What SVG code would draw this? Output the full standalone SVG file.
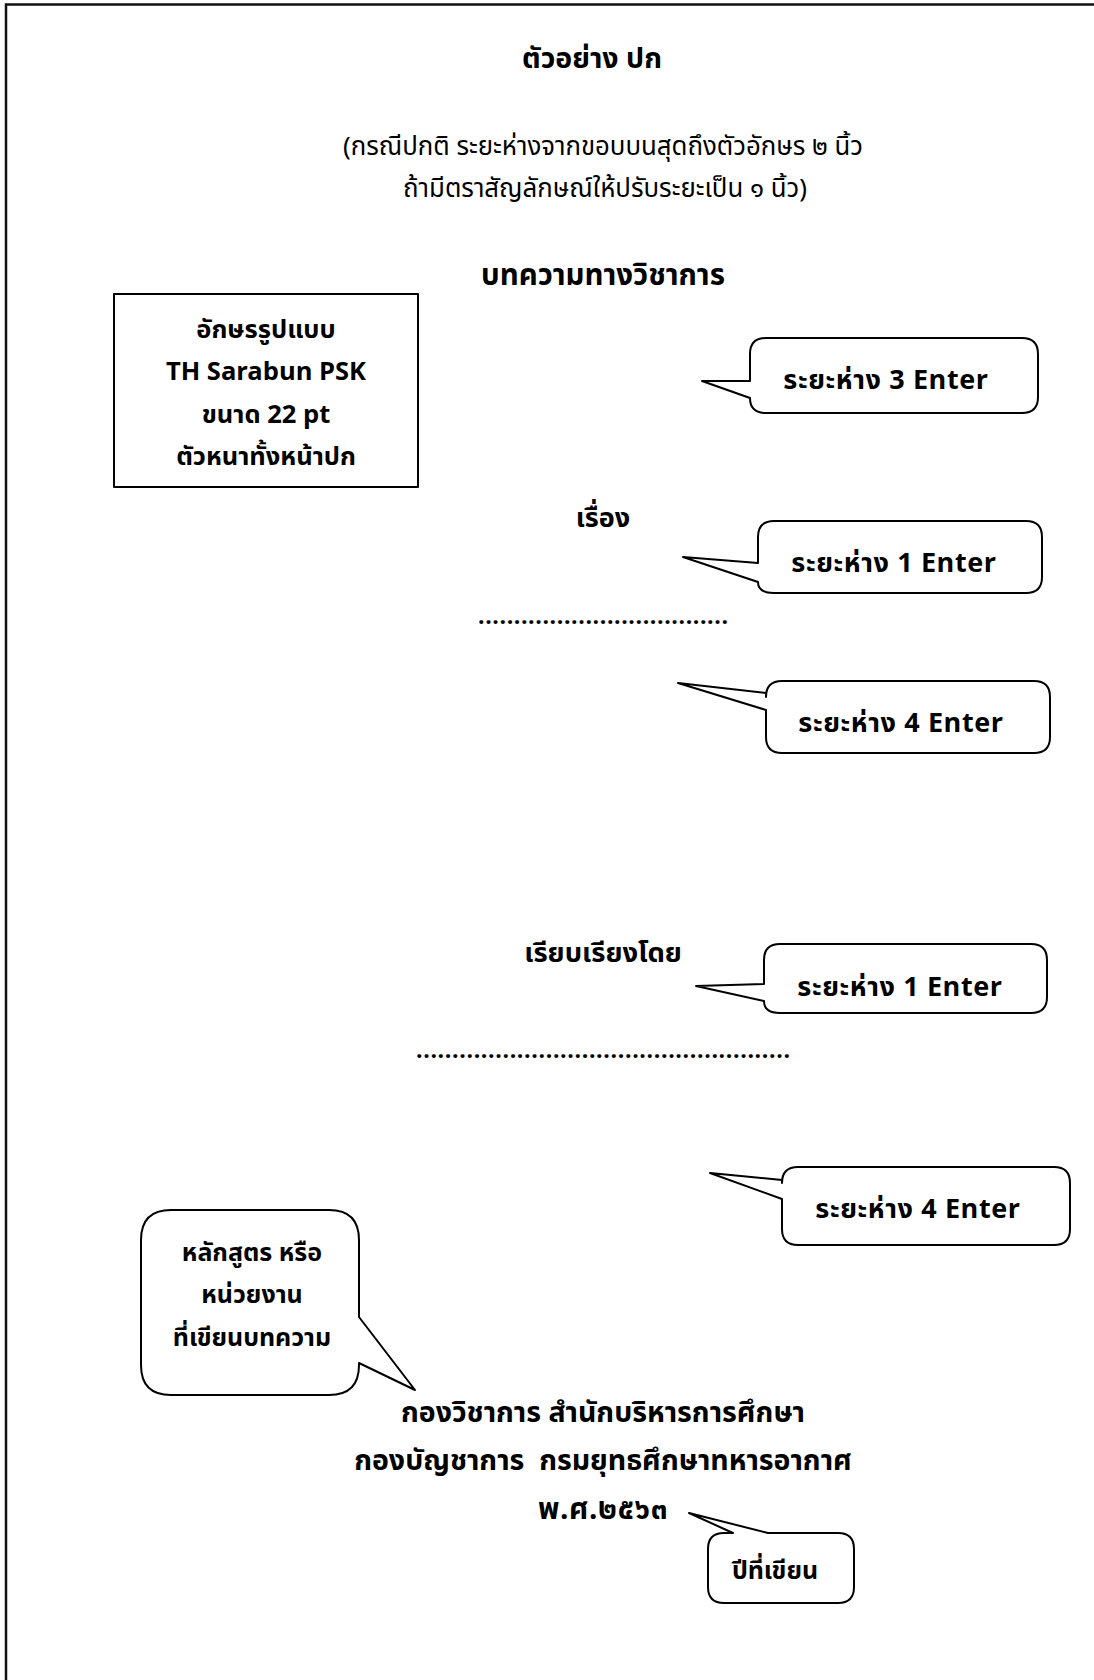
<svg xmlns="http://www.w3.org/2000/svg" width="1094" height="1680" viewBox="0 0 1094 1680">
<style>
text{font-family:"Noto Sans Thai","Noto Sans","DejaVu Sans",sans-serif;fill:#000;text-anchor:middle;font-weight:700}
.r{font-weight:400;font-size:25.8px}
.h{font-size:28.5px}
.box{font-size:25.5px}
.c{font-size:27px;letter-spacing:0.6px}
.n{font-size:25px}
.shape{fill:#fff;stroke:#000;stroke-width:2;stroke-linejoin:round}
.frame{fill:none;stroke:#111;stroke-width:2.5}
</style>
<g id="frame">
<path class="frame" d="M6,1680 V4.5 H1094"/>
</g>
<g id="title"><text class="h" x="592" y="68">ตัวอย่าง ปก</text></g>
<g id="note">
<text class="r" x="603" y="155">(กรณีปกติ ระยะห่างจากขอบบนสุดถึงตัวอักษร ๒ นิ้ว</text>
<text class="r" x="605" y="197">ถ้ามีตราสัญลักษณ์ให้ปรับระยะเป็น ๑ นิ้ว)</text>
</g>
<g id="heading"><text class="h" x="603" y="285" style="font-size:29.4px">บทความทางวิชาการ</text></g>
<g id="fontbox">
<rect class="shape" x="114" y="294" width="304" height="193"/>
<text class="box" x="266" y="338">อักษรรูปแบบ</text>
<text class="box" x="266" y="380">TH Sarabun PSK</text>
<text class="box" x="266" y="423">ขนาด 22 pt</text>
<text class="box" x="266" y="465">ตัวหนาทั้งหน้าปก</text>
</g>
<g id="subject"><text class="h" x="603" y="527" style="font-size:27px">เรื่อง</text></g>
<g id="dots1"><text x="603" y="624" style="font-size:23px" textLength="250" lengthAdjust="spacing">...................................</text></g>
<g id="author"><text class="h" x="603" y="962" style="font-size:27.4px">เรียบเรียงโดย</text></g>
<g id="dots2"><text x="603" y="1058" style="font-size:23px" textLength="374" lengthAdjust="spacing">....................................................</text></g>
<g id="org">
<text class="h" x="603" y="1422">กองวิชาการ สำนักบริหารการศึกษา</text>
<text class="h" x="603" y="1470" xml:space="preserve">กองบัญชาการ  กรมยุทธศึกษาทหารอากาศ</text>
</g>
<g id="year"><text class="h" x="603" y="1519" style="font-size:29.5px;letter-spacing:0.6px">พ.ศ.๒๕๖๓</text></g>
<g id="callouts">
<g id="c1">
<path class="shape" d="M766,338 H1022 Q1038,338 1038,354 V397 Q1038,413 1022,413 H766 Q750,413 750,398 L702,381 L750,381 V354 Q750,338 766,338 Z"/>
<text class="c" x="886" y="389">ระยะห่าง 3 Enter</text>
</g>
<g id="c2">
<path class="shape" d="M774,521 H1026 Q1042,521 1042,537 V577 Q1042,593 1026,593 H774 Q758,593 758,582 L683,557 L758,563 V537 Q758,521 774,521 Z"/>
<text class="c" x="894" y="572">ระยะห่าง 1 Enter</text>
</g>
<g id="c3">
<path class="shape" d="M782,681 H1034 Q1050,681 1050,697 V737 Q1050,753 1034,753 H782 Q766,753 766,737 V710 L678,683 L766,693 V697 Q766,681 782,681 Z"/>
<text class="c" x="901" y="732">ระยะห่าง 4 Enter</text>
</g>
<g id="c4">
<path class="shape" d="M780,944 H1031 Q1047,944 1047,960 V997 Q1047,1013 1031,1013 H780 Q764,1013 764,1001 L696,986 L764,984 V960 Q764,944 780,944 Z"/>
<text class="c" x="900" y="996">ระยะห่าง 1 Enter</text>
</g>
<g id="c5">
<path class="shape" d="M798,1167 H1054 Q1070,1167 1070,1183 V1229 Q1070,1245 1054,1245 H798 Q782,1245 782,1229 V1199 L710,1173 L782,1180 V1183 Q782,1167 798,1167 Z"/>
<text class="c" x="918" y="1218">ระยะห่าง 4 Enter</text>
</g>
<g id="c6">
<path class="shape" d="M171,1210 H329 Q359,1210 359,1240 V1317 L415,1390 L359,1363 V1365 Q359,1395 329,1395 H171 Q141,1395 141,1365 V1240 Q141,1210 171,1210 Z"/>
<text class="n" x="252" y="1261">หลักสูตร หรือ</text>
<text class="n" x="252" y="1303">หน่วยงาน</text>
<text class="n" x="252" y="1346">ที่เขียนบทความ</text>
</g>
<g id="c7">
<path class="shape" d="M724,1533 H733 L689,1513 L768,1533 H838 Q854,1533 854,1549 V1587 Q854,1603 838,1603 H724 Q708,1603 708,1587 V1549 Q708,1533 724,1533 Z"/>
<text class="n" x="775" y="1579">ปีที่เขียน</text>
</g>
</g>
</svg>
